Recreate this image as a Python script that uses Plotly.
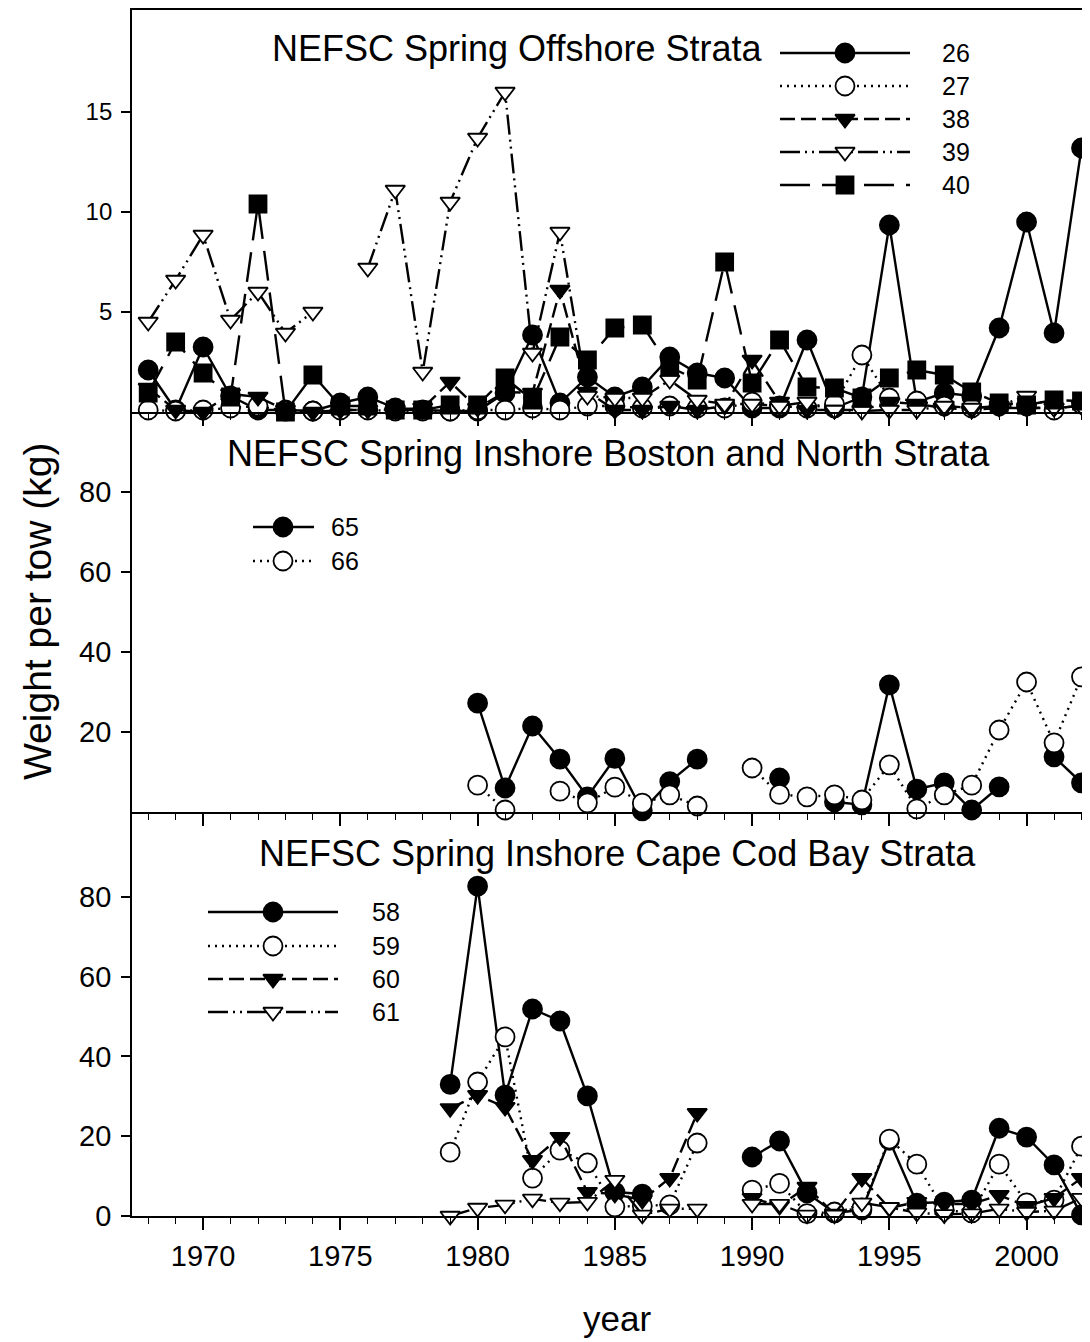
import plotly.graph_objects as go

N = None
years = list(range(1968, 2003))

# ---------- Top panel: NEFSC Spring Offshore Strata ----------
off_26 = [2.1, 0.1, 3.25, 0.8, 0.1, 0.1, 0.05, 0.45, 0.75, 0.2, 0.1, 0.05, 0.05, 0.95, 3.85, 0.45, 1.75,
          0.75, 1.25, 2.75, 1.95, 1.7, 0.2, 0.2, 3.6, 0.2, 0.75, 9.35, 0.5, 0.95, 0.8, 4.2, 9.5, 3.95, 13.2]
off_27 = [0.1, 0.05, 0.1, 0.2, 0.3, 0.05, 0.05, 0.1, 0.1, 0.05, 0.05, 0.05, 0.1, 0.1, 0.2, 0.1, 0.3,
          0.3, 0.2, 0.3, 0.2, 0.2, 0.5, 0.3, 0.2, 0.4, 2.85, 0.7, 0.55, 0.3, 0.2, 0.3, 0.3, 0.1, 0.4]
off_38 = [1.2, 0.1, 0.0, 0.9, 0.75, 0.1, 0.0, 0.1, 0.1, 0.1, 0.2, 1.5, 0.2, 1.0, 0.95, 6.1, 1.0,
          0.1, 0.1, 0.3, 0.1, 0.3, 2.6, 0.5, 0.1, 0.1, 0.1, 0.5, 0.4, 0.2, 0.1, 0.2, 0.2, 0.2, 0.3]
off_39 = [4.5, 6.6, 8.85, 4.6, 6.0, 3.95, 5.0, N, 7.2, 11.1, 2.0, 10.5, 13.7, 16.0, 2.95, 9.0, 0.8,
          0.7, 0.7, 1.6, 0.6, 0.4, 0.4, 0.3, 0.5, 0.1, 0.05, 0.1, 0.1, 0.3, 0.2, 0.3, 0.8, 0.2, 0.3]
off_40 = [0.95, 3.5, 1.95, 0.75, 10.4, 0.0, 1.85, 0.3, 0.3, 0.1, 0.1, 0.35, 0.35, 1.7, 0.6, 3.75, 2.6,
          4.2, 4.35, 2.25, 1.6, 7.5, 1.45, 3.6, 1.25, 1.2, 0.7, 1.7, 2.1, 1.85, 1.0, 0.45, 0.35, 0.6, 0.55]

# ---------- Middle panel: Inshore Boston and North ----------
bos_65 = [N] * 12 + [27.2, 6.0, 21.5, 13.2, 3.8, 13.4, 0.3, 7.6, 13.2, N, N, 8.5, N, 2.5, 1.8,
                     31.8, 5.7, 7.3, 0.5, 6.3, N, 13.8, 7.3]
bos_66 = [N] * 12 + [6.7, 0.5, N, 5.2, 2.3, 6.2, 2.2, 4.3, 1.5, N, 11.0, 4.4, 3.8, 4.3, 3.0,
                     11.8, 0.8, 4.3, 6.7, 20.5, 32.5, 17.3, 33.8]

# ---------- Bottom panel: Inshore Cape Cod Bay ----------
ccb_58 = [N] * 11 + [33.0, 82.7, 30.3, 51.9, 48.9, 30.1, 6.0, 5.5, N, N, N, 14.8, 18.8, 5.8, 0.8,
                     1.5, 19.0, 3.2, 3.5, 4.0, 22.0, 19.8, 12.8, 0.3]
ccb_59 = [N] * 11 + [16.0, 33.6, 44.9, 9.5, 16.5, 13.3, 2.3, 2.5, 2.8, 18.3, N, 6.5, 8.2, 0.6, 1.0,
                     2.0, 19.3, 13.0, 1.5, 0.8, 13.0, 3.3, 4.0, 17.5]
ccb_60 = [N] * 11 + [27.0, 30.3, 27.3, 14.0, 19.8, 6.0, 5.5, 4.0, 9.5, 25.8, N, 4.5, 2.5, 7.3, 0.5,
                     9.5, 2.0, 3.5, 3.0, 3.0, 5.2, 2.5, 4.5, 9.5]
ccb_61 = [N] * 11 + [0.0, 2.0, 2.8, 4.3, 3.3, 3.5, 9.0, 0.3, 1.8, 1.8, N, 3.0, 3.0, 0.3, 0.3,
                     3.3, 2.2, 0.8, 0.4, 0.6, 1.8, 1.0, 1.3, 4.5]

panel_titles = ["NEFSC Spring Offshore Strata",
                "NEFSC Spring Inshore Boston and North Strata",
                "NEFSC Spring Inshore Cape Cod Bay Strata"]
x_ticklabels = ["1970", "1975", "1980", "1985", "1990", "1995", "2000"]
x_tickvals = [1970, 1975, 1980, 1985, 1990, 1995, 2000]

FONT = "Liberation Sans, Arial, sans-serif"

# style keys: (symbol, filled, dash)
STY = {
    "A": ("circle", True, "solid"),
    "B": ("circle", False, "2px,5px"),
    "C": ("triangle-down", True, "15px,6px"),
    "D": ("triangle-down", False, "20px,5px,2px,5px,2px,5px"),
    "E": ("square", True, "30px,12px"),
}
SIZES = {"circle": 19, "triangle-down": 17, "square": 17}
LW = 2.4
MLW = 1.8

panels = [
    ("x", "y", [("26", off_26, "A"), ("27", off_27, "B"), ("38", off_38, "C"),
                ("39", off_39, "D"), ("40", off_40, "E")]),
    ("x2", "y2", [("65", bos_65, "A"), ("66", bos_66, "B")]),
    ("x3", "y3", [("58", ccb_58, "A"), ("59", ccb_59, "B"), ("60", ccb_60, "C"),
                  ("61", ccb_61, "D")]),
]

fig = go.Figure()

for xa, ya, series in panels:
    for name, vals, key in series:
        sym, filled, dash = STY[key]
        fig.add_trace(go.Scatter(
            x=years, y=vals, name=name, mode="lines+markers",
            line=dict(color="black", width=LW, dash=dash),
            marker=dict(symbol=sym, size=SIZES[sym], color="black" if filled else "white",
                        line=dict(color="black", width=MLW)),
            connectgaps=False, cliponaxis=False, showlegend=False,
            xaxis=xa, yaxis=ya))

# page offset of the plot div (body margin) is 8px; layout works in page pixels below
OFF = 8
PL, PT, PB = 132, 10, 1216          # plot area left / top / bottom in page pixels
W, H = 1090, 1342
PR = W + OFF                         # plot area right edge in page pixels (clipped by window)
px_per_year = 27.45
x_left = 1967.41
x_right = x_left + (PR - PL) / px_per_year

# ---------- manual legends (overlay axis in page-pixel units of the plot area) ----------
legend_defs = [
    (["26", "27", "38", "39", "40"], [53, 86, 119, 152, 185], 780, 910, 845, 940,
     ["A", "B", "C", "D", "E"]),
    (["65", "66"], [527, 561], 253, 314, 283, 329, ["A", "B"]),
    (["58", "59", "60", "61"], [912, 946, 979, 1012], 208, 338, 273, 370, ["A", "B", "C", "D"]),
]
annotations = []
for labels, rows, lx0, lx1, mx, tx, keys in legend_defs:
    for lab, ry, key in zip(labels, rows, keys):
        sym, filled, dash = STY[key]
        fig.add_trace(go.Scatter(
            x=[lx0, lx1], y=[ry, ry], mode="lines",
            line=dict(color="black", width=LW, dash=dash),
            showlegend=False, hoverinfo="skip", cliponaxis=False,
            xaxis="x4", yaxis="y4"))
        fig.add_trace(go.Scatter(
            x=[mx], y=[ry], mode="markers",
            marker=dict(symbol=sym, size=SIZES[sym], color="black" if filled else "white",
                        line=dict(color="black", width=MLW)),
            showlegend=False, hoverinfo="skip", cliponaxis=False,
            xaxis="x4", yaxis="y4"))
        annotations.append(dict(x=tx, y=ry, xref="x4", yref="y4", text=lab, showarrow=False,
                                xanchor="left", yanchor="middle",
                                font=dict(family=FONT, size=25, color="black")))

# panel titles
for title, (cx, cy) in zip(panel_titles, [(517, 48), (608, 453), (617, 853)]):
    annotations.append(dict(x=cx, y=cy, xref="x4", yref="y4", text=title, showarrow=False,
                            xanchor="center", yanchor="middle",
                            font=dict(family=FONT, size=36, color="black")))

def paper_x(px):
    return (px - PL) / (PR - PL)

def paper_y(py):
    return (PB - py) / (PB - PT)

# axis titles
annotations.append(dict(x=paper_x(38), y=paper_y(612), xref="paper", yref="paper",
                        text="Weight per tow (kg)", textangle=-90, showarrow=False,
                        xanchor="center", yanchor="middle",
                        font=dict(family=FONT, size=39, color="black")))
annotations.append(dict(x=paper_x(617), y=paper_y(1318), xref="paper", yref="paper",
                        text="year", showarrow=False, xanchor="center", yanchor="middle",
                        font=dict(family=FONT, size=35, color="black")))

xcommon = dict(range=[x_left, x_right], tickmode="array", tickvals=x_tickvals, ticktext=x_ticklabels,
               ticks="outside", ticklen=12, tickwidth=1.5, tickcolor="black",
               showline=True, linewidth=1.8, linecolor="black",
               showgrid=False, zeroline=False,
               minor=dict(dtick=1, tick0=1970, ticks="outside", ticklen=6, tickwidth=1.2,
                          tickcolor="black", showgrid=False))
ycommon = dict(ticks="outside", ticklen=9, tickwidth=1.5, tickcolor="black",
               showline=True, linewidth=1.8, linecolor="black",
               showgrid=False, zeroline=False, ticklabelstandoff=4)

d_top = (PB - 412) / (PB - PT)
d_mid = (PB - 812) / (PB - PT)

fig.update_layout(
    width=W, height=H,
    margin=dict(l=PL - OFF, r=0, t=PT - OFF, b=H - (PB - OFF), pad=0, autoexpand=False),
    paper_bgcolor="white", plot_bgcolor="rgba(0,0,0,0)",
    font=dict(family=FONT, color="black"),
    showlegend=False,
    xaxis=dict(**xcommon, anchor="y", showticklabels=False, mirror=True),
    xaxis2=dict(**xcommon, anchor="y2", showticklabels=False),
    xaxis3=dict(**xcommon, anchor="y3", showticklabels=True,
                tickfont=dict(family=FONT, size=29, color="black"), ticklabelstandoff=1),
    yaxis=dict(**ycommon, domain=[d_top, 1], anchor="x", range=[0, 20.1],
               tickvals=[5, 10, 15], tickfont=dict(family=FONT, size=24, color="black")),
    yaxis2=dict(**ycommon, domain=[d_mid, d_top], anchor="x2", range=[0, 100],
                tickvals=[20, 40, 60, 80], tickfont=dict(family=FONT, size=29, color="black")),
    yaxis3=dict(**ycommon, domain=[0, d_mid], anchor="x3", range=[0, 101.3],
                tickvals=[0, 20, 40, 60, 80], tickfont=dict(family=FONT, size=29, color="black")),
    xaxis4=dict(domain=[0, 1], anchor="y4", range=[PL, PR], visible=False, fixedrange=True),
    yaxis4=dict(domain=[0, 1], anchor="x4", range=[PB, PT], visible=False, fixedrange=True),
    annotations=annotations,
)

fig.write_html("out.html")
